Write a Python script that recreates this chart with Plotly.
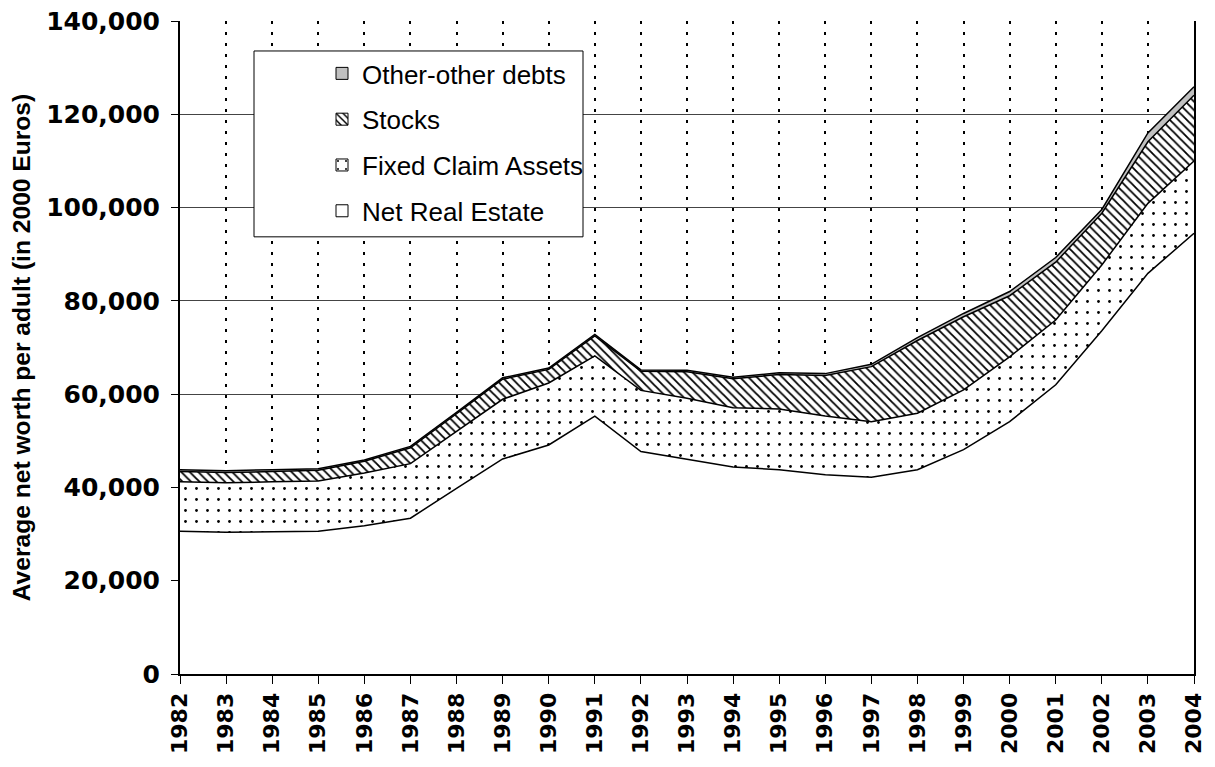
import plotly.graph_objects as go

years = list(range(1982, 2005))
year_labels = [str(y) for y in years]

net_real_estate = [30600, 30400, 30500, 30600, 31800, 33400, 39800, 46100, 49100, 55300,
                   47700, 46100, 44400, 43800, 42700, 42200, 43800, 48100, 54100, 62000,
                   73600, 85900, 94500]
fixed_claim_assets = [10600, 10600, 10700, 10800, 11300, 11700, 12200, 12800, 13300, 12900,
                      13100, 13000, 12700, 13000, 12600, 11900, 12100, 12800, 13900, 13900,
                      14100, 15000, 15500]
stocks = [2200, 2200, 2200, 2300, 2500, 3400, 3800, 4300, 2900, 4300,
          4100, 5700, 6200, 7400, 8700, 11800, 15600, 15700, 13100, 12400,
          11100, 13200, 14100]
other_other_debts = [400, 400, 400, 300, 300, 300, 300, 300, 300, 300,
                     300, 300, 300, 400, 400, 500, 600, 700, 900, 1000,
                     800, 1900, 1800]

y_ticks = [0, 20000, 40000, 60000, 80000, 100000, 120000, 140000]

# page has an 8px body margin; figure is sized to fit the 1215x767 window
OFF = 8
W, H = 1215 - 2 * OFF, 767 - 2 * OFF
PLOT_L, PLOT_R, PLOT_T, PLOT_B = 180, 1194, 21, 674.5   # page pixels
ML, MR = PLOT_L - OFF, (W + OFF) - PLOT_R
MT, MB = PLOT_T - OFF, (H + OFF) - PLOT_B
PW = PLOT_R - PLOT_L
PH = PLOT_B - PLOT_T

def px_x(p):
    return (p - PLOT_L) / PW

def px_y(p):
    return (PLOT_B - p) / PH

line = dict(color="black", width=1.5)
dots = dict(shape=".", size=11, solidity=0.05, fgcolor="black", bgcolor="white",
            fillmode="replace")
hatch = dict(shape="\\", size=6, solidity=0.3, fgcolor="black", bgcolor="white",
             fillmode="replace")

series = [
    ("Net Real Estate", net_real_estate, dict(fillcolor="white"), dict(color="white")),
    ("Fixed Claim Assets", fixed_claim_assets, dict(fillpattern=dots),
     dict(color="white", pattern=dots)),
    ("Stocks", stocks, dict(fillpattern=hatch), dict(color="white", pattern=hatch)),
    ("Other-other debts", other_other_debts, dict(fillcolor="#c0c0c0"), dict(color="#c0c0c0")),
]

fig = go.Figure()
for name, vals, fill_kw, _ in series:
    fig.add_trace(go.Scatter(x=years, y=vals, name=name, stackgroup="s", mode="lines",
                             line=line, showlegend=False, hoverinfo="skip", **fill_kw))

# legend entries (square swatches like the original)
for rank, (name, vals, _, marker_kw) in zip([4, 3, 2, 1], series):
    fig.add_trace(go.Bar(x=[None], y=[None], name=name, legendrank=rank,
                         legendgroup=name,
                         marker=dict(line=dict(color="black", width=1), **marker_kw)))

fig.update_layout(
    width=W, height=H,
    margin=dict(l=ML, r=MR, t=MT, b=MB, autoexpand=False),
    paper_bgcolor="white", plot_bgcolor="white",
    showlegend=True,
    legend=dict(
        x=px_x(322), y=px_y(50), xanchor="left", yanchor="top",
        bgcolor="rgba(0,0,0,0)", borderwidth=0,
        traceorder="grouped", tracegroupgap=9,
        font=dict(family="Liberation Sans", size=26, color="black"),
        itemwidth=30,
    ),
    shapes=[dict(type="rect", xref="paper", yref="paper",
                 x0=px_x(254), x1=px_x(583), y0=px_y(237), y1=px_y(51),
                 line=dict(color="black", width=1), fillcolor="white", layer="above")],
    xaxis=dict(
        range=[1982, 2004], tickvals=years, ticktext=year_labels, tickangle=-90,
        tickfont=dict(family="DejaVu Sans", size=22, color="black", weight="bold"),
        showgrid=True, gridcolor="black", gridwidth=1.5,
        griddash="3px,8px", ticks="outside", ticklen=8, tickcolor="black",
        showline=True, linecolor="black", linewidth=2, zeroline=False,
        automargin=False, ticklabeloverflow="allow",
    ),
    yaxis=dict(
        range=[0, 140000], tickvals=y_ticks, tickformat=",d",
        tickfont=dict(family="DejaVu Sans", size=25, color="black", weight="bold"),
        showgrid=True, gridcolor="#444444", gridwidth=1, ticks="outside",
        ticklen=7, tickcolor="black", showline=True, linecolor="black",
        linewidth=2, mirror=True, zeroline=False, automargin=False,
        ticklabelstandoff=6, ticklabeloverflow="allow",
        title=dict(text="Average net worth per adult (in 2000 Euros)",
                   font=dict(family="Liberation Sans", size=24.6, color="black", weight="bold"),
                   standoff=12),
    ),
)

fig.write_html("out.html")
